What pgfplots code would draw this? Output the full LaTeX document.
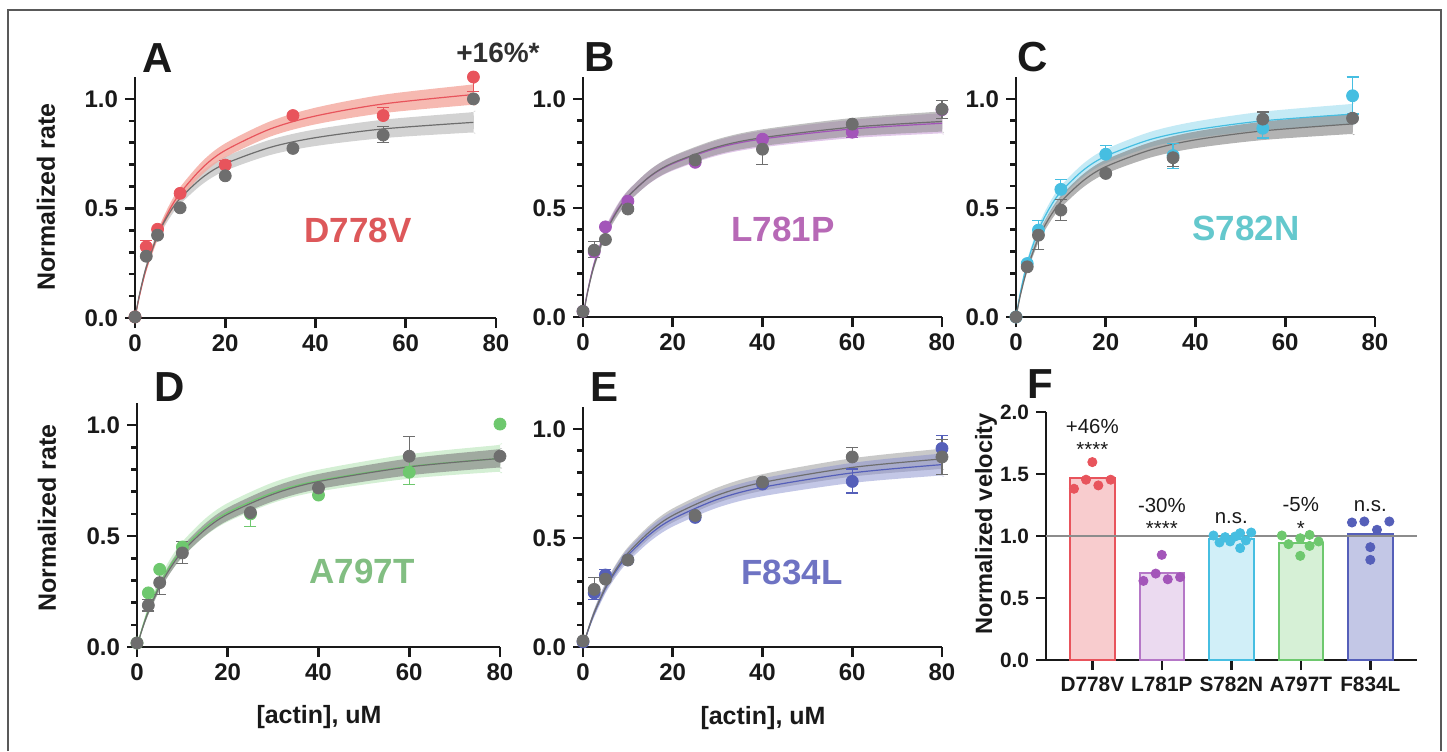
\documentclass[border=0pt]{standalone}
\usepackage{fontspec}
\setmainfont{Liberation Sans}
\usepackage{pgfplots}
\pgfplotsset{compat=1.18}

\definecolor{redc}{RGB}{232,84,92}
\definecolor{redband}{RGB}{244,168,158}
\definecolor{redtxt}{RGB}{221,88,90}
\definecolor{purc}{RGB}{163,85,185}
\definecolor{purtxt}{RGB}{183,105,182}
\definecolor{cyanc}{RGB}{70,190,225}
\definecolor{cyantxt}{RGB}{100,200,205}
\definecolor{greenc}{RGB}{110,200,110}
\definecolor{greentxt}{RGB}{130,190,130}
\definecolor{bluec}{RGB}{85,95,185}
\definecolor{bluetxt}{RGB}{110,115,195}
\definecolor{grayc}{RGB}{110,110,110}
\definecolor{ink}{RGB}{25,25,25}

\pgfplotsset{
  kin/.style={
    scale only axis, clip=false, anchor=south west,
    axis lines=left, axis line style={-, line width=1.3pt, ink},
    xmin=0, xmax=80, ymin=0, ymax=1.1,
    xtick={0,20,40,60,80}, ytick={0,0.5,1},
    minor ytick={0.1,0.2,0.3,0.4,0.6,0.7,0.8,0.9},
    tick align=outside, major tick length=5pt, minor tick length=3pt,
    tick style={line width=1.3pt, ink},
    ticklabel style={font=\bfseries\fontsize{12}{14}\selectfont, text=ink},
    /pgf/number format/assume math mode=true,
    yticklabel style={/pgf/number format/.cd, fixed, fixed zerofill, precision=1},
  },
  fitline/.style={smooth, line width=0.6pt},
  band/.style={smooth, draw=none},
  pts/.style={only marks, mark=*, mark size=3pt,
    error bars/y dir=both, error bars/y explicit,
    error bars/error bar style={line width=0.6pt},
    error bars/error mark options={rotate=90, mark size=3pt, line width=0.6pt}},
}

\begin{document}
\begin{tikzpicture}
\useasboundingbox (0,0) rectangle (723.5pt,375.5pt);
\draw[line width=0.7pt, black!65] (4pt,0) -- (4pt,370.5pt) -- (720.5pt,370.5pt) -- (720.5pt,0);

% ---------- A: D778V ----------
\begin{axis}[kin, at={(67.5pt,216.5pt)}, width=180.5pt, height=120.5pt]
\addplot[band, fill=black!22, fill opacity=0.8] coordinates {(0,0)(1,.100)(2.5,.218)(5,.357)(7.5,.451)(10,.519)(15,.612)(20,.672)(30,.744)(40,.785)(55,.821)(74,.846)(75,.847)
 (75,.939)(74,.938)(55,.905)(40,.861)(30,.814)(20,.736)(15,.672)(10,.573)(7.5,.499)(5,.397)(2.5,.248)(1,.116)(0,0)} -- cycle;
\addplot[band, fill=redband, fill opacity=0.8] coordinates {(0,0)(1,.094)(2.5,.211)(5,.358)(7.5,.464)(10,.543)(15,.657)(20,.733)(30,.828)(40,.884)(55,.935)(74,.972)(75,.974)
 (75,1.066)(74,1.064)(55,1.019)(40,.960)(30,.898)(20,.797)(15,.717)(10,.597)(7.5,.512)(5,.398)(2.5,.241)(1,.110)(0,0)} -- cycle;
\addplot[fitline, redc] coordinates {(0,0)(1,.102)(2.5,.226)(5,.378)(7.5,.488)(10,.570)(15,.687)(20,.765)(30,.863)(40,.922)(55,.977)(75,1.020)};
\addplot[fitline, grayc] coordinates {(0,0)(1,.108)(2.5,.233)(5,.377)(7.5,.475)(10,.546)(15,.642)(20,.704)(30,.779)(40,.823)(55,.863)(75,.893)};
\addplot[pts, redc] table[y error plus=ep, y error minus=em] {
x y ep em
0 0.005 0 0
2.5 0.325 0.03 0
5 0.405 0 0
10 0.569 0 0
20 0.698 0.022 0
35 0.924 0 0
55 0.924 0.036 0
75 1.10 0 0.066
};
\addplot[pts, grayc] table[y error plus=ep, y error minus=em] {
x y ep em
0 0.005 0 0
2.5 0.282 0 0
5 0.378 0 0
10 0.503 0 0
20 0.649 0 0
35 0.774 0 0
55 0.835 0.038 0.035
75 1.0 0 0
};
\end{axis}

% ---------- B: L781P ----------
\begin{axis}[kin, at={(291.5pt,217pt)}, width=179.5pt, height=120pt]
\addplot[band, fill=purc!55!white, fill opacity=0.6] coordinates {(0,0)(1,.107)(2.5,.230)(5,.370)(7.5,.462)(10,.526)(15,.615)(20,.671)(30,.740)(40,.778)(60,.820)(79,.841)(80,.842)
 (80,.934)(79,.933)(60,.904)(40,.854)(30,.810)(20,.735)(15,.675)(10,.580)(7.5,.510)(5,.410)(2.5,.260)(1,.123)(0,0)} -- cycle;
\addplot[band, fill=black!45, fill opacity=0.55] coordinates {(0,0)(1,.103)(2.5,.223)(5,.363)(7.5,.457)(10,.524)(15,.616)(20,.674)(30,.745)(40,.784)(60,.828)(79,.849)(80,.850)
 (80,.942)(79,.941)(60,.912)(40,.860)(30,.815)(20,.738)(15,.676)(10,.578)(7.5,.505)(5,.403)(2.5,.253)(1,.119)(0,0)} -- cycle;
\addplot[fitline, purc] coordinates {(0,0)(1,.115)(2.5,.245)(5,.390)(7.5,.486)(10,.553)(15,.645)(20,.703)(30,.775)(40,.816)(60,.862)(80,.888)};
\addplot[fitline, grayc] coordinates {(0,0)(1,.111)(2.5,.238)(5,.383)(7.5,.481)(10,.551)(15,.646)(20,.706)(30,.780)(40,.822)(60,.870)(80,.896)};
\addplot[pts, purc] table[y error plus=ep, y error minus=em] {
x y ep em
0 0.026 0 0
2.5 0.299 0 0
5 0.413 0 0
10 0.531 0 0
25 0.709 0 0
40 0.815 0 0
60 0.847 0 0.023
80 0.950 0 0
};
\addplot[pts, grayc] table[y error plus=ep, y error minus=em] {
x y ep em
0 0.026 0 0
2.5 0.306 0.039 0.033
5 0.355 0 0
10 0.495 0 0
25 0.72 0 0
40 0.769 0 0.069
60 0.884 0 0
80 0.952 0.04 0.041
};
\end{axis}

% ---------- C: S782N ----------
\begin{axis}[kin, at={(508pt,217pt)}, width=179.5pt, height=120pt]
\addplot[band, fill=cyanc!40!white, fill opacity=0.8] coordinates {(0,0)(1,.107)(2.5,.232)(5,.378)(7.5,.476)(10,.547)(15,.643)(20,.705)(30,.779)(40,.820)(55,.857)(74,.883)(75,.884)
 (75,.976)(74,.975)(55,.941)(40,.896)(30,.849)(20,.769)(15,.703)(10,.601)(7.5,.524)(5,.418)(2.5,.262)(1,.123)(0,0)} -- cycle;
\addplot[band, fill=black!50, fill opacity=0.6] coordinates {(0,0)(1,.094)(2.5,.206)(5,.341)(7.5,.433)(10,.501)(15,.595)(20,.657)(30,.731)(40,.774)(55,.811)(74,.838)(75,.839)
 (75,.931)(74,.930)(55,.895)(40,.850)(30,.801)(20,.721)(15,.655)(10,.555)(7.5,.481)(5,.381)(2.5,.236)(1,.110)(0,0)} -- cycle;
\addplot[fitline, cyanc] coordinates {(0,0)(1,.115)(2.5,.247)(5,.398)(7.5,.500)(10,.574)(15,.673)(20,.737)(30,.814)(40,.858)(55,.899)(75,.930)};
\addplot[fitline, grayc] coordinates {(0,0)(1,.102)(2.5,.221)(5,.361)(7.5,.457)(10,.528)(15,.625)(20,.689)(30,.766)(40,.812)(55,.853)(75,.885)};
\addplot[pts, cyanc] table[y error plus=ep, y error minus=em] {
x y ep em
0 0 0 0
2.5 0.245 0 0
5 0.398 0.046 0
10 0.585 0.047 0
20 0.746 0.04 0
35 0.74 0.054 0.06
55 0.865 0 0.045
75 1.014 0.086 0.084
};
\addplot[pts, grayc] table[y error plus=ep, y error minus=em] {
x y ep em
0 0 0 0
2.5 0.23 0 0
5 0.375 0 0.065
10 0.49 0.05 0.046
20 0.658 0 0
35 0.73 0 0.04
55 0.907 0.033 0
75 0.911 0 0
};
\end{axis}

% ---------- D: A797T ----------
\begin{axis}[kin, at={(68.5pt,52pt)}, width=181.5pt, height=122pt]
\addplot[band, fill=greenc!35!white, fill opacity=0.85] coordinates {(0,0)(1,.064)(2.5,.146)(5,.258)(7.5,.341)(10,.405)(15,.500)(20,.565)(30,.650)(40,.701)(60,.759)(79,.789)(80,.790)
 (80,.910)(79,.909)(60,.869)(40,.799)(30,.742)(20,.649)(15,.578)(10,.475)(7.5,.403)(5,.310)(2.5,.186)(1,.084)(0,0)} -- cycle;
\addplot[band, fill=black!50, fill opacity=0.62] coordinates {(0,0)(1,.064)(2.5,.146)(5,.256)(7.5,.339)(10,.406)(15,.502)(20,.570)(30,.657)(40,.712)(60,.774)(79,.808)(80,.809)
 (80,.891)(79,.890)(60,.850)(40,.780)(30,.721)(20,.628)(15,.556)(10,.454)(7.5,.383)(5,.292)(2.5,.172)(1,.078)(0,0)} -- cycle;
\addplot[fitline, greenc] coordinates {(0,0)(1,.074)(2.5,.166)(5,.284)(7.5,.372)(10,.440)(15,.539)(20,.607)(30,.696)(40,.750)(60,.814)(80,.850)};
\addplot[fitline, grayc] coordinates {(0,0)(1,.071)(2.5,.159)(5,.274)(7.5,.361)(10,.430)(15,.529)(20,.599)(30,.689)(40,.746)(60,.812)(80,.850)};
\addplot[pts, greenc] table[y error plus=ep, y error minus=em] {
x y ep em
0 0.018 0 0
2.5 0.244 0 0
5 0.35 0 0
10 0.451 0.023 0
25 0.60 0 0.055
40 0.685 0 0
60 0.788 0.07 0.054
80 1.005 0 0
};
\addplot[pts, grayc] table[y error plus=ep, y error minus=em] {
x y ep em
0 0.018 0 0
2.5 0.188 0.027 0.026
5 0.29 0.053 0.052
10 0.424 0.05 0.048
25 0.606 0 0
40 0.717 0 0
60 0.86 0.09 0
80 0.86 0 0
};
\end{axis}

% ---------- E: F834L ----------
\begin{axis}[kin, at={(291.5pt,52pt)}, width=179.5pt, height=120pt]
\addplot[band, fill=black!25, fill opacity=0.85] coordinates {(0,0)(1,.062)(2.5,.143)(5,.253)(7.5,.337)(10,.403)(15,.501)(20,.571)(30,.661)(40,.716)(60,.781)(79,.815)(80,.816)
 (80,.908)(79,.907)(60,.865)(40,.792)(30,.731)(20,.635)(15,.561)(10,.457)(7.5,.385)(5,.293)(2.5,.173)(1,.078)(0,0)} -- cycle;
\addplot[band, fill=bluec!70!white, fill opacity=0.5] coordinates {(0,0)(1,.060)(2.5,.138)(5,.246)(7.5,.327)(10,.390)(15,.485)(20,.552)(30,.639)(40,.691)(60,.752)(79,.785)(80,.786)
 (80,.886)(79,.885)(60,.844)(40,.773)(30,.715)(20,.622)(15,.551)(10,.450)(7.5,.379)(5,.290)(2.5,.172)(1,.078)(0,0)} -- cycle;
\addplot[fitline, bluec] coordinates {(0,0)(1,.069)(2.5,.155)(5,.268)(7.5,.353)(10,.420)(15,.518)(20,.587)(30,.677)(40,.732)(60,.798)(80,.836)};
\addplot[fitline, grayc] coordinates {(0,0)(1,.070)(2.5,.158)(5,.273)(7.5,.361)(10,.430)(15,.531)(20,.603)(30,.696)(40,.754)(60,.823)(80,.862)};
\addplot[pts, bluec] table[y error plus=ep, y error minus=em] {
x y ep em
0 0.023 0 0
2.5 0.248 0 0.03
5 0.33 0.027 0
10 0.399 0 0
25 0.594 0.02 0
40 0.747 0 0
60 0.759 0.057 0.053
80 0.91 0.061 0
};
\addplot[pts, grayc] table[y error plus=ep, y error minus=em] {
x y ep em
0 0.028 0 0
2.5 0.264 0.055 0
5 0.311 0 0
10 0.399 0 0
25 0.603 0 0
40 0.756 0 0
60 0.871 0.045 0
80 0.871 0.08 0.081
};
\end{axis}

% ---------- F: gliding velocity ----------
\begin{axis}[
  scale only axis, clip=false, anchor=south west,
  at={(523pt,45.5pt)}, width=185.5pt, height=124pt,
  axis lines=left, axis line style={-, line width=1.3pt, ink},
  xmin=-0.667, xmax=4.672, ymin=0, ymax=2,
  xtick={0,1,2,3,4}, xticklabels={D778V,L781P,S782N,A797T,F834L},
  ytick={0,0.5,1,1.5,2},
  tick align=outside, major tick length=5pt,
  tick style={line width=1.3pt, ink},
  ticklabel style={font=\bfseries\fontsize{10.4}{12}\selectfont, text=ink},
  /pgf/number format/assume math mode=true,
  yticklabel style={/pgf/number format/.cd, fixed, fixed zerofill, precision=1},
]
\addplot[ybar, bar shift=0pt, bar width=0.64, line width=1pt, draw=redc, fill=redc!30!white] coordinates {(0,1.467)};
\addplot[ybar, bar shift=0pt, bar width=0.64, line width=1pt, draw=purc!80!white, fill=purc!22!white] coordinates {(1,0.70)};
\addplot[ybar, bar shift=0pt, bar width=0.64, line width=1pt, draw=cyanc, fill=cyanc!25!white] coordinates {(2,0.974)};
\addplot[ybar, bar shift=0pt, bar width=0.64, line width=1pt, draw=greenc, fill=greenc!28!white] coordinates {(3,0.947)};
\addplot[ybar, bar shift=0pt, bar width=0.64, line width=1pt, draw=bluec, fill=bluec!35!white] coordinates {(4,1.015)};
\addplot[black!45, line width=1.3pt] coordinates {(-0.667,1) (4.672,1)};
\addplot[only marks, mark=*, mark size=2.3pt, redc] coordinates {(-0.264,1.381)(-0.091,1.454)(0,1.596)(0.086,1.408)(0.264,1.454)};
\addplot[only marks, mark=*, mark size=2.3pt, purc] coordinates {(0.735,0.638)(0.912,0.697)(0.999,0.848)(1.085,0.651)(1.263,0.668)};
\addplot[only marks, mark=*, mark size=2.3pt, cyanc] coordinates {(1.743,1.004)(1.830,0.948)(1.911,0.991)(1.983,0.956)(2.055,0.996)(2.127,1.023)(2.127,0.902)(2.209,0.964)(2.286,1.028)};
\addplot[only marks, mark=*, mark size=2.3pt, greenc] coordinates {(2.727,1.004)(2.823,0.934)(2.992,0.982)(2.992,0.84)(3.126,1.009)(3.126,0.92)(3.256,0.956)};
\addplot[only marks, mark=*, mark size=2.3pt, bluec] coordinates {(3.736,1.109)(3.914,1.117)(4.096,1.05)(4.274,1.117)(4.0,0.91)(4.0,0.808)};
\begin{scope}[every node/.style={anchor=base, text=ink, font=\fontsize{10.2}{12}\selectfont}]
\node at (axis cs:0,1.83) {+46\%};
\node at (axis cs:0,1.64) {****};
\node at (axis cs:1,1.19) {-30\%};
\node at (axis cs:1,1.004) {****};
\node at (axis cs:2,1.10) {n.s.};
\node at (axis cs:3,1.198) {-5\%};
\node at (axis cs:3,1.004) {*};
\node at (axis cs:4,1.198) {n.s.};
\end{scope}
\end{axis}

% ---------- labels ----------
\begin{scope}[every node/.style={font=\bfseries\fontsize{21}{24}\selectfont, text=ink}]
\node at (79pt,346.5pt) {A};
\node at (300pt,347pt) {B};
\node at (516.5pt,347pt) {C};
\node at (85pt,182pt) {D};
\node at (302.5pt,182pt) {E};
\node at (520pt,183.5pt) {F};
\end{scope}
\begin{scope}[every node/.style={font=\bfseries\fontsize{17.5}{20}\selectfont}]
\node[text=redtxt] at (179pt,260.5pt) {D778V};
\node[text=purtxt] at (391.5pt,261pt) {L781P};
\node[text=cyantxt] at (623pt,261.5pt) {S782N};
\node[text=greentxt] at (181pt,90pt) {A797T};
\node[text=bluetxt] at (396pt,89.5pt) {F834L};
\end{scope}
\node[font=\bfseries\fontsize{14}{16}\selectfont, text=ink!90] at (249pt,349pt) {+16\%*};
\begin{scope}[every node/.style={font=\bfseries\fontsize{12.5}{14}\selectfont, text=ink}]
\node[rotate=90] at (23pt,277pt) {Normalized rate};
\node[rotate=90] at (23.5pt,116.5pt) {Normalized rate};
\node at (159.5pt,17pt) {[actin], uM};
\node at (381.5pt,16.5pt) {[actin], uM};
\node[rotate=90, font=\bfseries\fontsize{11.8}{13}\selectfont] at (493pt,113.5pt) {Normalized velocity};
\end{scope}
\end{tikzpicture}
\end{document}
